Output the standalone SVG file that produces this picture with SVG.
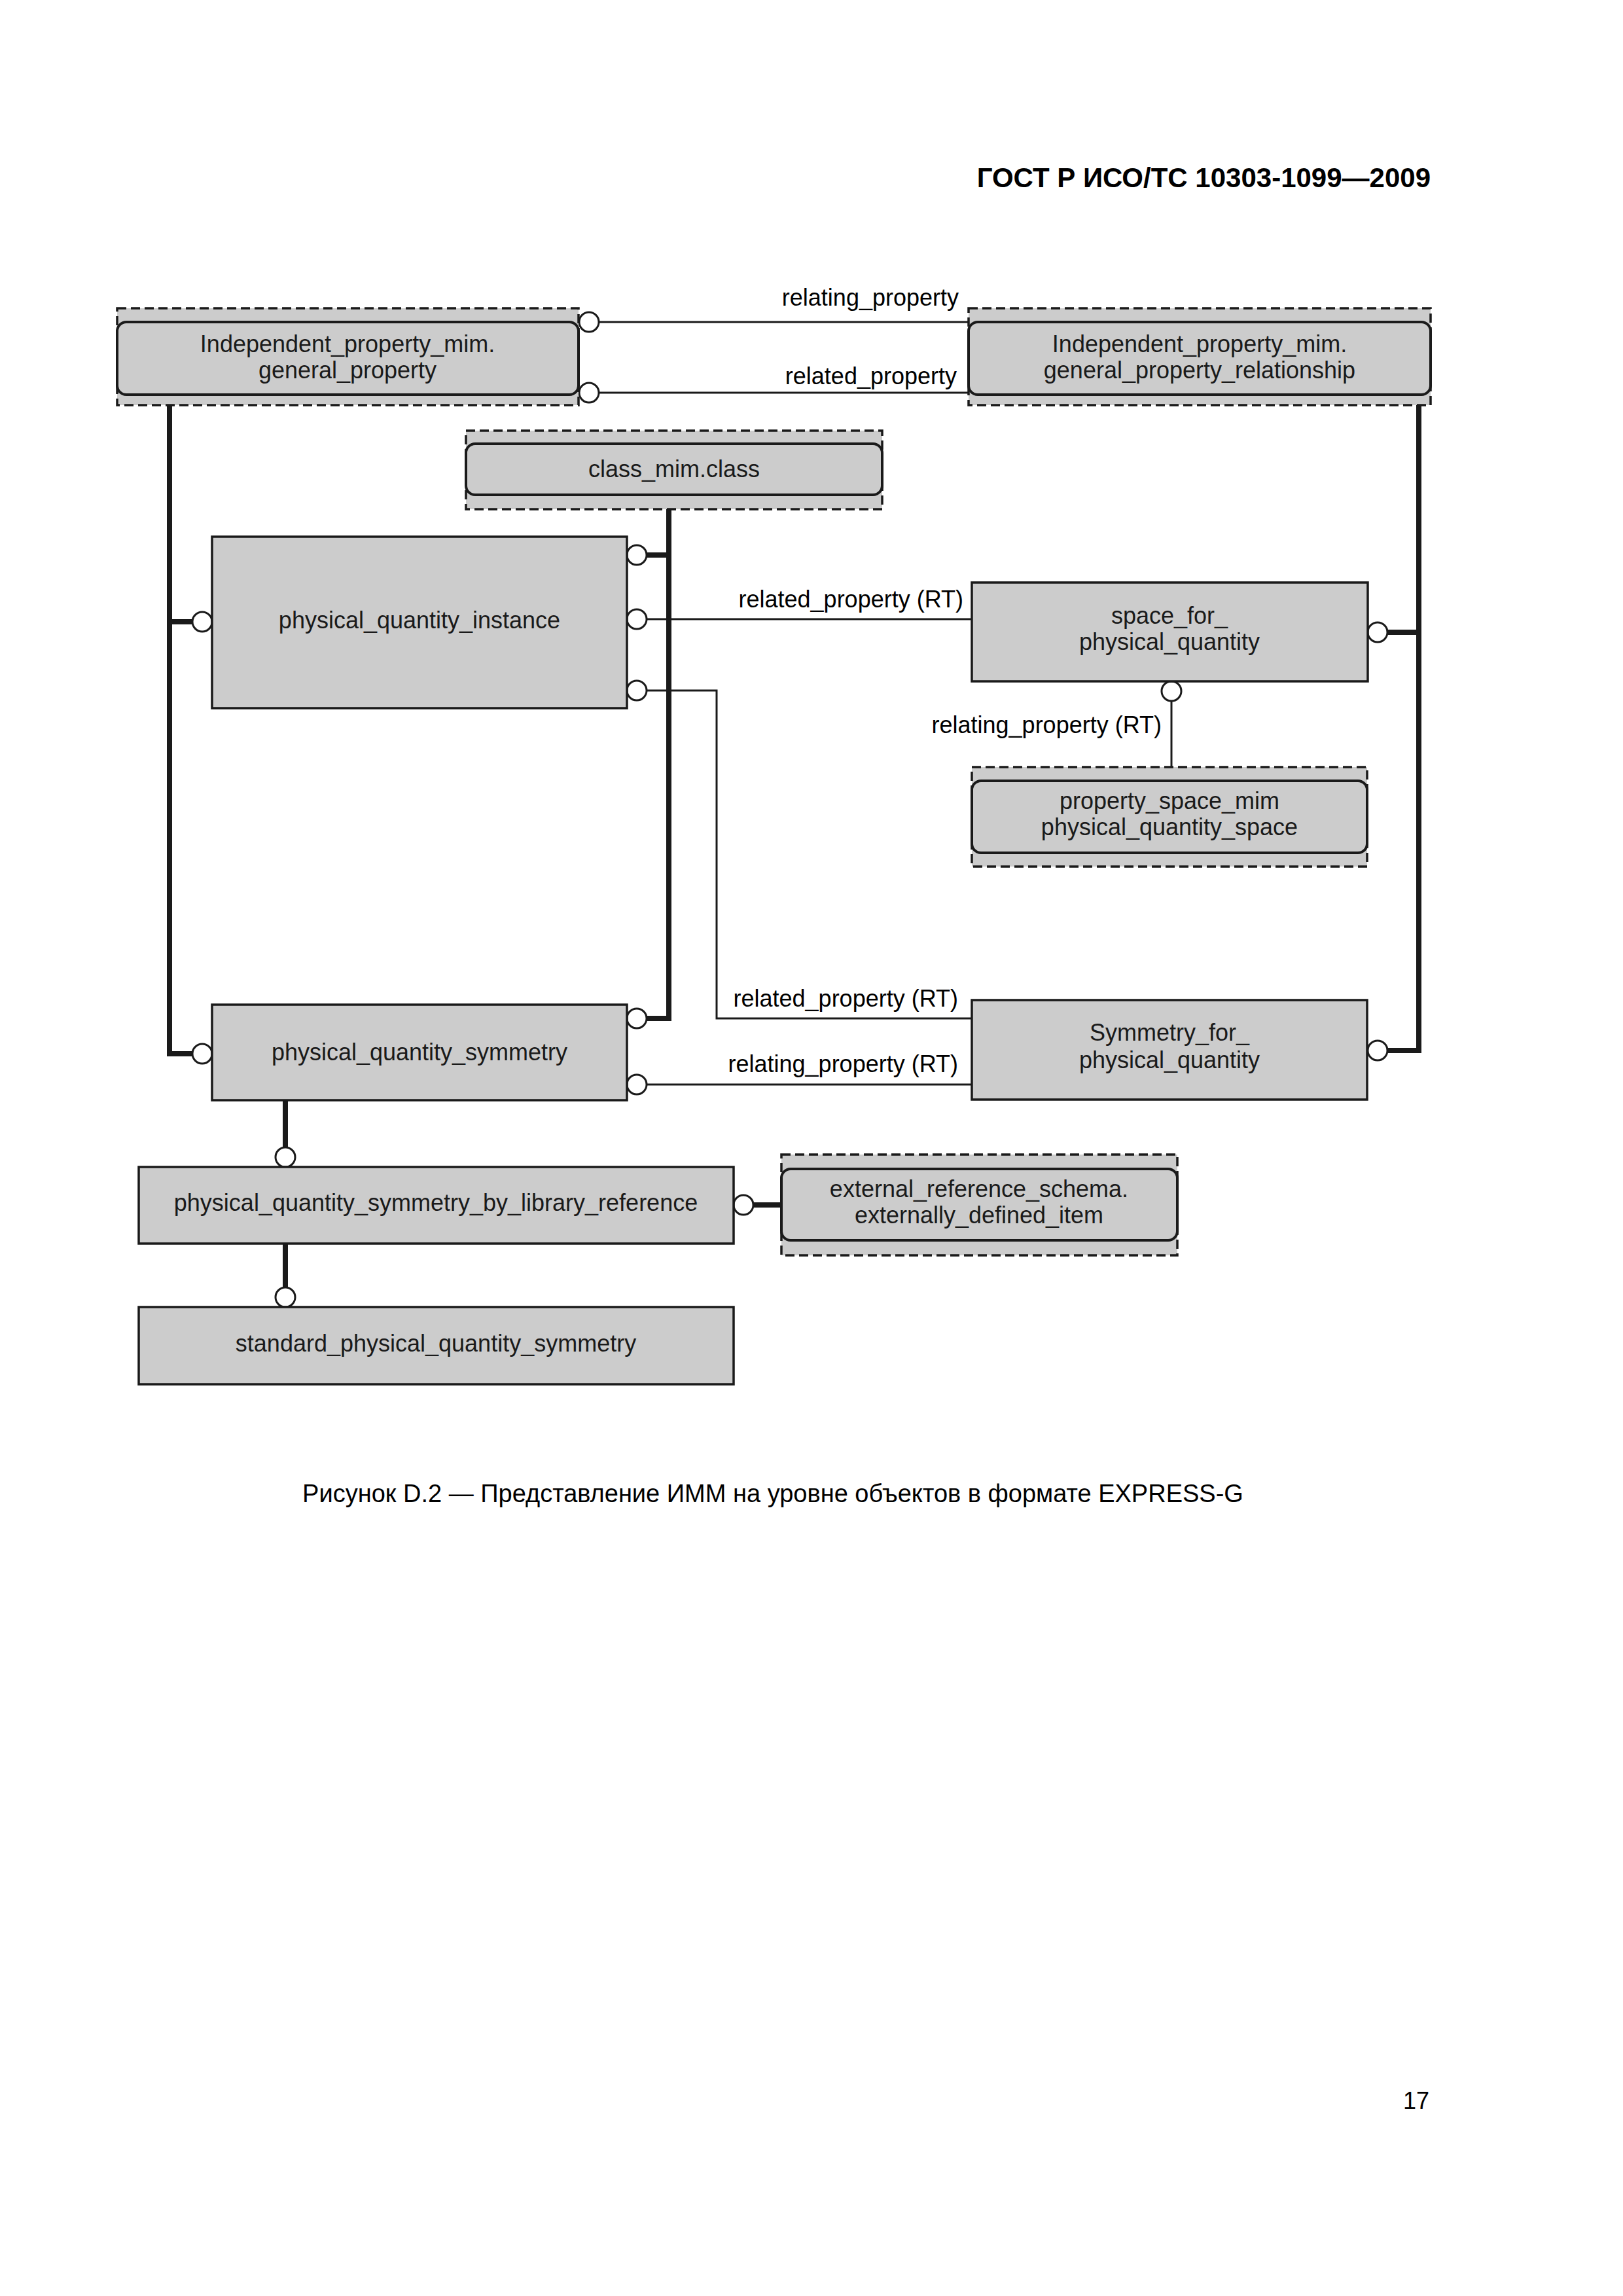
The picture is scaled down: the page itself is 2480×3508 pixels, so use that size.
<svg xmlns="http://www.w3.org/2000/svg" width="2480" height="3508" viewBox="0 0 2480 3508">
<style>
.bg{fill:#ffffff}
.box{fill:#cccccc;stroke:#1a1a1a;stroke-width:3.5}
.dash{fill:#cccccc;stroke:#1a1a1a;stroke-width:3.5;stroke-dasharray:14 7}
.rbox{fill:#cccccc;stroke:#1a1a1a;stroke-width:4}
.t{font-family:"Liberation Sans",Arial,sans-serif;font-size:36px;fill:#1a1a1a;text-anchor:middle}
.lbl{font-family:"Liberation Sans",Arial,sans-serif;font-size:36px;fill:#000;text-anchor:end}
.thin{fill:none;stroke:#1a1a1a;stroke-width:3}
.thick{fill:none;stroke:#1a1a1a;stroke-width:8}
.c{fill:#ffffff;stroke:#1a1a1a;stroke-width:3}
</style>
<rect class="bg" x="0" y="0" width="2480" height="3508"/>
<text x="2186" y="286" font-family="Liberation Sans, Arial, sans-serif" font-size="42" font-weight="bold" text-anchor="end" fill="#000">ГОСТ Р ИСО/ТС 10303-1099—2009</text>

<g id="connectors">
  <line class="thin" x1="915" y1="492" x2="1480" y2="492"/>
  <line class="thin" x1="915" y1="600" x2="1480" y2="600"/>
  <path class="thick" d="M259 619 V1610 H294"/>
  <path class="thick" d="M259 950 H294"/>
  <path class="thick" d="M1022 778 V1556 H988"/>
  <path class="thick" d="M988 848 H1022"/>
  <path class="thin" d="M988 946 H1485"/>
  <path class="thin" d="M988 1055 H1095 V1556 H1485"/>
  <path class="thin" d="M988 1657 H1485"/>
  <path class="thick" d="M2168 619 V1605 H2120"/>
  <path class="thick" d="M2120 966 H2168"/>
  <path class="thin" d="M1790 1071 V1172"/>
  <path class="thick" d="M436 1681 V1753"/>
  <path class="thick" d="M436 1900 V1967"/>
  <path class="thick" d="M1151 1841 H1194"/>
  <circle class="c" cx="900" cy="492" r="15"/>
  <circle class="c" cx="900" cy="600" r="15"/>
  <circle class="c" cx="309" cy="950" r="15"/>
  <circle class="c" cx="309" cy="1610" r="15"/>
  <circle class="c" cx="973" cy="848" r="15"/>
  <circle class="c" cx="973" cy="946" r="15"/>
  <circle class="c" cx="973" cy="1055" r="15"/>
  <circle class="c" cx="973" cy="1556" r="15"/>
  <circle class="c" cx="973" cy="1657" r="15"/>
  <circle class="c" cx="2105" cy="966" r="15"/>
  <circle class="c" cx="2105" cy="1605" r="15"/>
  <circle class="c" cx="1790" cy="1056" r="15"/>
  <circle class="c" cx="436" cy="1768" r="15"/>
  <circle class="c" cx="436" cy="1982" r="15"/>
  <circle class="c" cx="1136" cy="1841" r="15"/>
  <text class="lbl" x="1465" y="467">relating_property</text>
  <text class="lbl" x="1462" y="587">related_property</text>
  <text class="lbl" x="1472" y="928">related_property (RT)</text>
  <text class="lbl" x="1775" y="1120">relating_property (RT)</text>
  <text class="lbl" x="1464" y="1538">related_property (RT)</text>
  <text class="lbl" x="1464" y="1638">relating_property (RT)</text>
</g>

<g id="general_property">
  <rect class="dash" x="179" y="471" width="705" height="148"/>
  <rect class="rbox" x="179" y="492" width="705" height="111" rx="14"/>
  <text class="t" x="531" y="538">Independent_property_mim.</text>
  <text class="t" x="531" y="578">general_property</text>
</g>
<g id="general_property_relationship">
  <rect class="dash" x="1480" y="471" width="706" height="148"/>
  <rect class="rbox" x="1480" y="492" width="706" height="111" rx="14"/>
  <text class="t" x="1833" y="538">Independent_property_mim.</text>
  <text class="t" x="1833" y="578">general_property_relationship</text>
</g>
<g id="class_mim_class">
  <rect class="dash" x="712" y="658" width="636" height="120"/>
  <rect class="rbox" x="712" y="678" width="636" height="78" rx="14"/>
  <text class="t" x="1030" y="729">class_mim.class</text>
</g>
<g id="physical_quantity_instance">
  <rect class="box" x="324" y="820" width="634" height="262"/>
  <text class="t" x="641" y="960">physical_quantity_instance</text>
</g>
<g id="space_for_physical_quantity">
  <rect class="box" x="1485" y="890" width="605" height="151"/>
  <text class="t" x="1787" y="953">space_for_</text>
  <text class="t" x="1787" y="993">physical_quantity</text>
</g>
<g id="physical_quantity_space">
  <rect class="dash" x="1485" y="1172" width="604" height="152"/>
  <rect class="rbox" x="1485" y="1193" width="604" height="110" rx="14"/>
  <text class="t" x="1787" y="1236">property_space_mim</text>
  <text class="t" x="1787" y="1276">physical_quantity_space</text>
</g>
<g id="symmetry_for_physical_quantity">
  <rect class="box" x="1485" y="1528" width="604" height="152"/>
  <text class="t" x="1787" y="1590">Symmetry_for_</text>
  <text class="t" x="1787" y="1632">physical_quantity</text>
</g>
<g id="physical_quantity_symmetry">
  <rect class="box" x="324" y="1535" width="634" height="146"/>
  <text class="t" x="641" y="1620">physical_quantity_symmetry</text>
</g>
<g id="physical_quantity_symmetry_by_library_reference">
  <rect class="box" x="212" y="1783" width="909" height="117"/>
  <text class="t" x="666" y="1850">physical_quantity_symmetry_by_library_reference</text>
</g>
<g id="externally_defined_item">
  <rect class="dash" x="1194" y="1764" width="605" height="154"/>
  <rect class="rbox" x="1194" y="1786" width="605" height="109" rx="14"/>
  <text class="t" x="1496" y="1829">external_reference_schema.</text>
  <text class="t" x="1496" y="1869">externally_defined_item</text>
</g>
<g id="standard_physical_quantity_symmetry">
  <rect class="box" x="212" y="1997" width="909" height="118"/>
  <text class="t" x="666" y="2065">standard_physical_quantity_symmetry</text>
</g>

<text x="1181" y="2295" font-family="Liberation Sans, Arial, sans-serif" font-size="38" text-anchor="middle" fill="#000">Рисунок D.2 — Представление ИММ на уровне объектов в формате EXPRESS-G</text>
<text x="2184" y="3222" font-family="Liberation Sans, Arial, sans-serif" font-size="36" text-anchor="end" fill="#000">17</text>
</svg>
